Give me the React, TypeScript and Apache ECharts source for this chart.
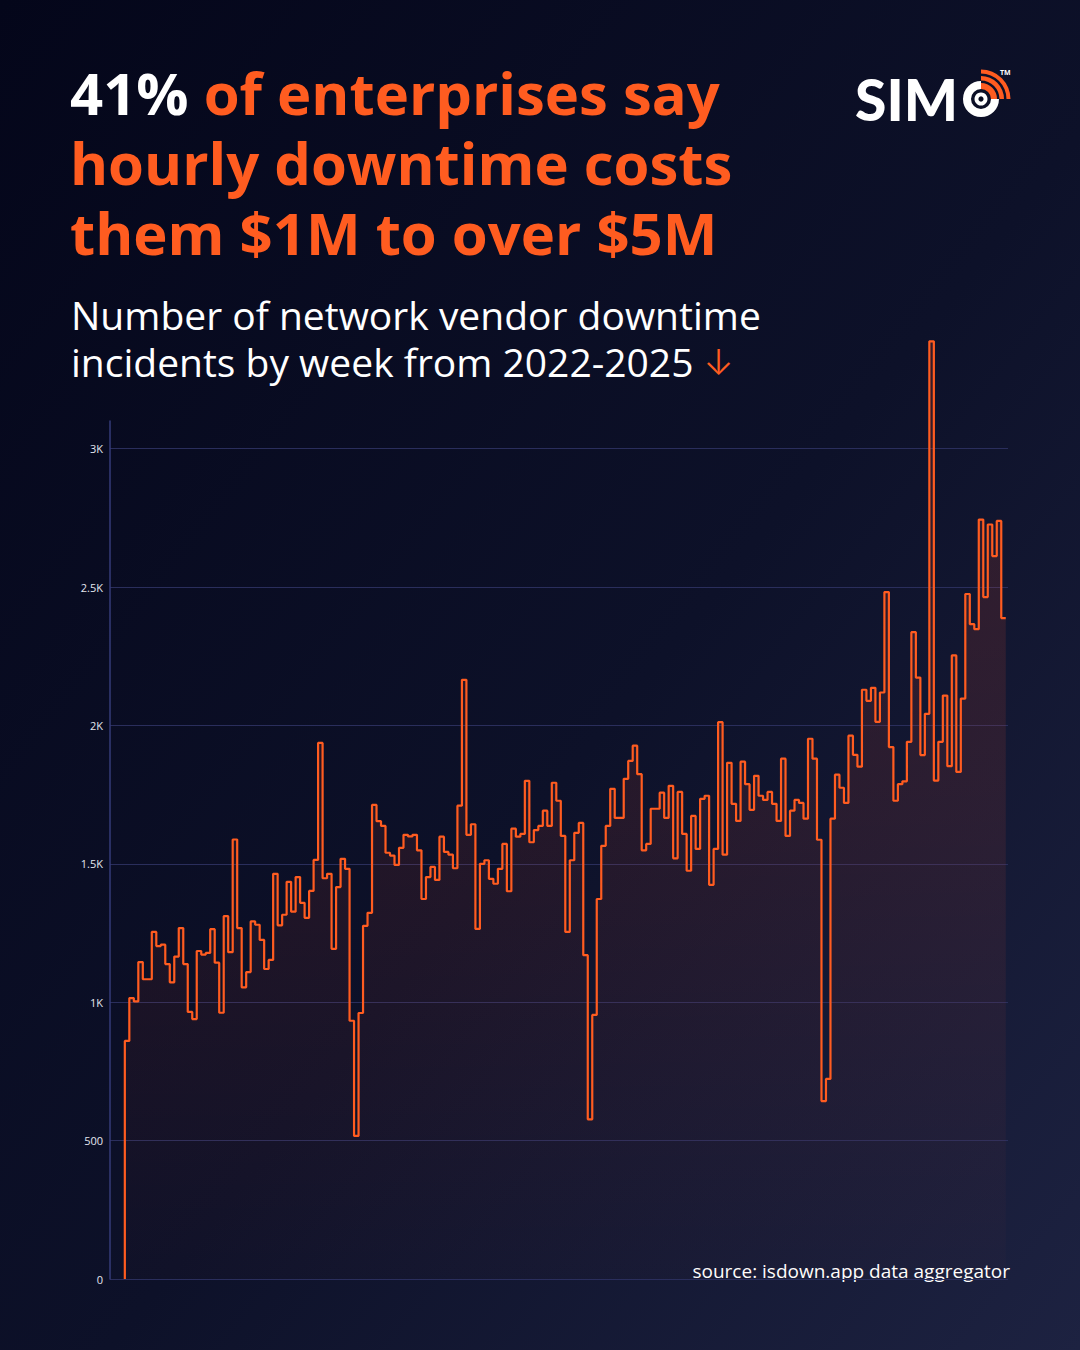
import React, { useEffect, useRef } from "react";
import * as echarts from "echarts";

// Weekly count of network vendor downtime incidents, 2022–2025
const weeklyIncidents: number[] = [
  860, 1015, 1003, 1145, 1083, 1083, 1254, 1203, 1208, 1138, 1072, 1165, 1268, 1138, 965, 939, 1185, 1172, 1178, 1264,
  1143, 962, 1311, 1181, 1588, 1268, 1054, 1109, 1292, 1280,
  1225, 1120, 1153, 1464, 1278, 1316, 1435, 1327, 1452, 1359, 1305, 1402, 1514, 1937, 1448, 1464, 1193, 1416, 1518, 1482,
  933, 517, 961, 1276, 1323, 1713, 1654, 1637, 1540, 1530, 1496, 1558, 1605, 1599,
  1605, 1549, 1373, 1452, 1489, 1442, 1598, 1543, 1533, 1484, 1710, 2165, 1605, 1643, 1265, 1500, 1513, 1446, 1428, 1482,
  1572, 1401, 1627, 1598, 1608, 1800, 1578, 1622, 1637, 1692, 1637, 1793, 1728,
  1601, 1254, 1513, 1612, 1648, 1170, 577, 954, 1373, 1565, 1637, 1771, 1666, 1666, 1807, 1872, 1927, 1824, 1549, 1572,
  1699, 1699, 1757, 1666, 1782, 1520, 1760, 1608, 1475, 1673, 1554, 1735, 1746, 1424, 1554,
  2012, 1533, 1865, 1717, 1655, 1869, 1788, 1695, 1818, 1746, 1731, 1760, 1717, 1655, 1880, 1601, 1692, 1731, 1720, 1663,
  1952, 1880, 1587, 643, 723, 1663, 1822, 1775, 1720, 1963, 1894, 1851, 2129, 2089,
  2136, 2013, 2119, 2482, 1922, 1728, 1788, 1798, 1941, 2337, 2173, 1893, 2042, 3388, 1801, 1941, 2108, 1853, 2253, 1832,
  2097, 2475, 2366, 2348, 2744, 2464, 2726, 2612, 2739, 2388,
];
const seriesStartValue = 0;

const yTickValues = [0, 500, 1000, 1500, 2000, 2500, 3000];
const yTickLabels = ["0", "500", "1K", "1.5K", "2K", "2.5K", "3K"];

const titleHighlight = "41%";
const titleLine1Rest = " of enterprises say";
const titleLine2 = "hourly downtime costs";
const titleLine3 = "them $1M to over $5M";
const subtitleLine1 = "Number of network vendor downtime";
const subtitleLine2 = "incidents by week from 2022-2025 ";
const subtitleArrow = "↓";
const sourceNote = "source: isdown.app data aggregator";
const brandText = "SIM";

const ORANGE = "#ff5c20";
const WHITE = "#ffffff";

export default function App() {
  const ref = useRef<HTMLDivElement>(null);

  useEffect(() => {
    if (!ref.current) return;
    const chart = echarts.init(ref.current, null, { renderer: "svg" });

    const data: [number, number][] = [[0, seriesStartValue]];
    weeklyIncidents.forEach((v, i) => data.push([i + 1, v]));

    const titleFont = "'Open Sans'";
    const titleSize = 58;
    const titleLH = 70;
    const subSize = 39;
    const subLH = 47;
    const cx = 981;
    const cy = 99;

    const titleRichBase = { fontSize: titleSize, fontWeight: 700, fontFamily: titleFont, lineHeight: titleLH };
    const subRichBase = { fontSize: subSize, fontWeight: 400, fontFamily: "'Open Sans'", lineHeight: subLH };

    const option: any = {
      animation: false,
      backgroundColor: new echarts.graphic.LinearGradient(0, 0, 1, 1, [
        { offset: 0, color: "#04061a" },
        { offset: 0.55, color: "#0d1129" },
        { offset: 1, color: "#1d2241" },
      ]),
      grid: { left: 110, right: 72, top: 421, bottom: 71, containLabel: false },
      xAxis: {
        type: "value",
        min: -3.3,
        max: 196.5,
        show: false,
      },
      yAxis: {
        type: "value",
        min: 0,
        max: 3100,
        interval: 500,
        axisLine: { show: true, onZero: false, lineStyle: { color: "#343b78", width: 1.5 } },
        axisTick: { show: false },
        splitLine: {
          show: true,
          showMaxLine: false,
          showMinLine: true,
          lineStyle: { color: "#2a2e5c", width: 1 },
        },
        axisLabel: {
          showMaxLabel: false,
          color: "#e4e6ef",
          fontSize: 11,
          fontFamily: "'Open Sans'",
          margin: 7,
          formatter: (v: number) => {
            const i = yTickValues.indexOf(v);
            return i >= 0 ? yTickLabels[i] : "";
          },
        },
      },
      series: [
        {
          type: "line",
          step: "start",
          data,
          symbol: "none",
          clip: false,
          lineStyle: { color: ORANGE, width: 2.2 },
          areaStyle: {
            color: new echarts.graphic.LinearGradient(0, 0, 0, 1, [
              { offset: 0, color: "rgba(255,80,40,0.22)" },
              { offset: 0.5, color: "rgba(255,80,40,0.14)" },
              { offset: 1, color: "rgba(255,80,40,0.02)" },
            ]),
          },
        },
      ],
      graphic: [
        {
          type: "text",
          style: {
            x: 70,
            y: 113 - titleSize * 0.36 - titleLH / 2,
            text: `{w|${titleHighlight}}{o|${titleLine1Rest}}\n{o|${titleLine2}}\n{o|${titleLine3}}`,
            lineHeight: titleLH,
            verticalAlign: "top",
            textVerticalAlign: "top",
            rich: {
              w: { ...titleRichBase, fill: WHITE, color: WHITE },
              o: { ...titleRichBase, fill: ORANGE, color: ORANGE },
            },
          },
        },
        {
          type: "text",
          style: {
            x: 71,
            y: 329 - subSize * 0.36 - subLH / 2,
            text: `{t|${subtitleLine1}}\n{t|${subtitleLine2}}{a|${subtitleArrow}}`,
            lineHeight: subLH,
            verticalAlign: "top",
            textVerticalAlign: "top",
            rich: {
              t: { ...subRichBase, fill: WHITE, color: WHITE },
              a: { fill: ORANGE, color: ORANGE, fontSize: 36, fontWeight: 300, fontFamily: "Inter", lineHeight: subLH },
            },
          },
        },
        {
          type: "text",
          style: {
            x: 1010,
            y: 1271,
            text: sourceNote,
            fill: WHITE,
            font: "400 19px 'Open Sans'",
            align: "right",
            textAlign: "right",
            verticalAlign: "middle",
            textVerticalAlign: "middle",
          },
        },
        // Logo
        {
          type: "text",
          style: {
            x: 855,
            y: 99,
            text: brandText,
            fill: WHITE,
            font: "900 57px Lato",
            verticalAlign: "middle",
            textVerticalAlign: "middle",
          },
        },
        {
          type: "sector",
          shape: { cx, cy, r0: 10, r: 18, startAngle: 0, endAngle: Math.PI * 1.5, clockwise: true },
          style: { fill: WHITE },
        },
        {
          type: "circle",
          shape: { cx, cy, r: 6.5 },
          style: { fill: WHITE },
        },
        {
          type: "circle",
          shape: { cx, cy, r: 2.6 },
          style: { fill: "#070a1f" },
        },
        {
          type: "sector",
          shape: { cx, cy, r0: 10, r: 16, startAngle: -Math.PI / 2, endAngle: 0, clockwise: true },
          style: { fill: ORANGE },
        },
        {
          type: "sector",
          shape: { cx, cy, r0: 18.5, r: 23, startAngle: -Math.PI / 2, endAngle: 0, clockwise: true },
          style: { fill: ORANGE },
        },
        {
          type: "sector",
          shape: { cx, cy, r0: 25.5, r: 29.5, startAngle: -Math.PI / 2, endAngle: 0, clockwise: true },
          style: { fill: ORANGE },
        },
        {
          type: "text",
          style: {
            x: 1000,
            y: 72,
            text: "TM",
            fill: WHITE,
            font: "700 7px 'Open Sans'",
            verticalAlign: "middle",
            textVerticalAlign: "middle",
          },
        },
      ],
    };

    chart.setOption(option);
    return () => chart.dispose();
  }, []);

  return (
    <div
      ref={ref}
      style={{ position: "fixed", left: 0, top: 0, width: 1080, height: 1350 }}
    />
  );
}
